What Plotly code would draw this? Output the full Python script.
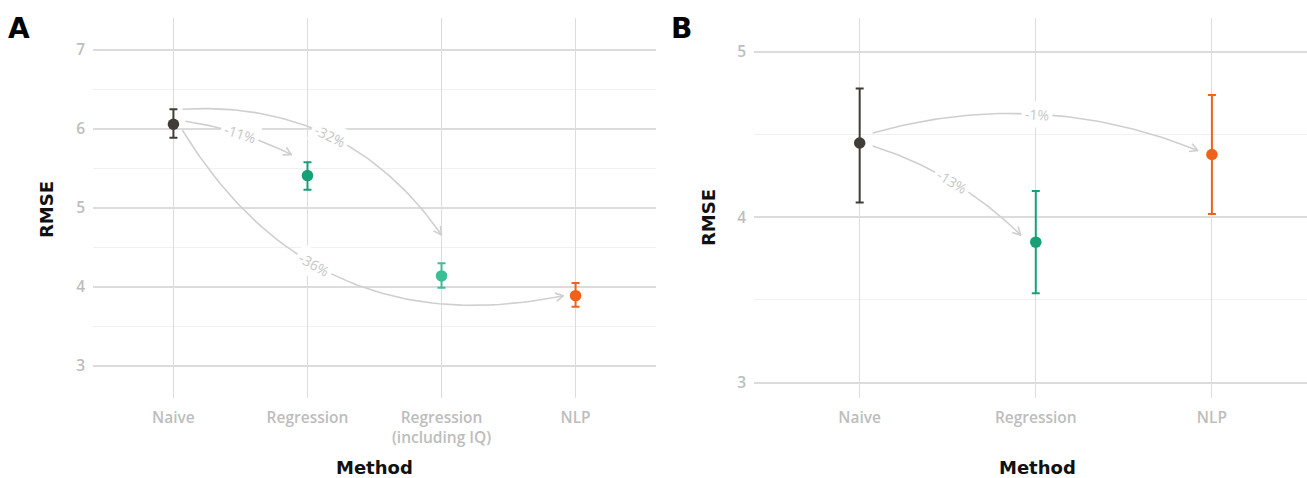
import math
import plotly.graph_objects as go

# ---------------- data ----------------
methods_a = ["Naive", "Regression", "Regression<br>(including IQ)", "NLP"]
rmse_a = [6.06, 5.41, 4.14, 3.89]
lower_a = [5.89, 5.23, 3.99, 3.75]
upper_a = [6.25, 5.58, 4.30, 4.05]

methods_b = ["Naive", "Regression", "NLP"]
rmse_b = [4.45, 3.85, 4.38]
lower_b = [4.09, 3.54, 4.02]
upper_b = [4.78, 4.16, 4.74]

# comparisons: (from index, to index, label)
compare_a = [(0, 1, "-11%"), (0, 2, "-32%"), (0, 3, "-36%")]
compare_b = [(0, 1, "-13%"), (0, 2, "-1%")]

y_ticks_a = [3, 4, 5, 6, 7]
y_ticks_b = [3, 4, 5]

# ---------------- style ----------------
W, H = 1307, 478
col_a = ["#403d39", "#17a077", "#3dbd96", "#f0621a"]
col_b = ["#403d39", "#17a077", "#f0621a"]

# arrow styling: start offset px, end offset px, curvature (+ bulges up/right), label position t
style_a = [((12, -3), (-16, -21), 0.08, 0.5),
           ((9, -15), (0, -41), 0.28, 0.5),
           ((9, 6), (-12, 0), -0.35, 0.42)]
style_b = [((13, 3), (-15, -7), 0.12, 0.5),
           ((13, -10), (-14, -4), 0.17, 0.5)]

panel_a = dict(x0=93, x1=656, xr=(-0.6, 3.6), y0=18, y1=398, yr=(2.595, 7.405))
panel_b = dict(x0=754, x1=1307, xr=(-0.6, 2.54), y0=18, y1=398, yr=(2.907, 5.206))

GRID = "#dcdcdc"
MINOR = "#f0f0f0"
TICKC = "#bdbdbd"
ARROW = "#cfcfcf"
FONT = "Open Sans"
TFONT = "DejaVu Sans"

fig = go.Figure()


def to_px(p, x, y):
    px = p["x0"] + (x - p["xr"][0]) / (p["xr"][1] - p["xr"][0]) * (p["x1"] - p["x0"])
    py = p["y1"] - (y - p["yr"][0]) / (p["yr"][1] - p["yr"][0]) * (p["y1"] - p["y0"])
    return px, py


def to_data(p, px, py):
    x = p["xr"][0] + (px - p["x0"]) / (p["x1"] - p["x0"]) * (p["xr"][1] - p["xr"][0])
    y = p["yr"][0] + (p["y1"] - py) / (p["y1"] - p["y0"]) * (p["yr"][1] - p["yr"][0])
    return x, y


def add_panel(methods, rmse, lo, hi, cols, xa, ya):
    for i, m in enumerate(methods):
        fig.add_trace(go.Scatter(
            x=[i], y=[rmse[i]], mode="markers",
            marker=dict(size=11.5, color=cols[i]),
            error_y=dict(type="data", symmetric=False,
                         array=[hi[i] - rmse[i]], arrayminus=[rmse[i] - lo[i]],
                         color=cols[i], thickness=2, width=4),
            xaxis=xa, yaxis=ya, showlegend=False, hoverinfo="skip"))


def add_arrows(p, rmse, comps, styles, xa, ya):
    for (i, j, lab), (so, eo, k, tl_) in zip(comps, styles):
        sx, sy = to_px(p, i, rmse[i])
        ex, ey = to_px(p, j, rmse[j])
        sx, sy = sx + so[0], sy + so[1]
        ex, ey = ex + eo[0], ey + eo[1]
        dx, dy = ex - sx, ey - sy
        L = math.hypot(dx, dy)
        perp = (dy / L, -dx / L)
        mx, my = (sx + ex) / 2, (sy + ey) / 2
        cx, cy = mx + k * L * perp[0], my + k * L * perp[1]

        def bez(u):
            return ((1 - u) ** 2 * sx + 2 * (1 - u) * u * cx + u ** 2 * ex,
                    (1 - u) ** 2 * sy + 2 * (1 - u) * u * cy + u ** 2 * ey)

        xs, ys = [], []
        n = 60
        for t in range(n + 1):
            X, Y = to_data(p, *bez(t / n))
            xs.append(X); ys.append(Y)
        fig.add_trace(go.Scatter(x=xs, y=ys, mode="lines",
                                 line=dict(color=ARROW, width=1.6),
                                 xaxis=xa, yaxis=ya, showlegend=False, hoverinfo="skip"))
        # open arrow head
        tx, ty = ex - cx, ey - cy
        tn = math.hypot(tx, ty)
        tx, ty = tx / tn, ty / tn
        hx, hy = [], []
        for sgn in (1, -1):
            a = math.radians(28) * sgn
            rx = -(tx * math.cos(a) - ty * math.sin(a))
            ry = -(tx * math.sin(a) + ty * math.cos(a))
            X1, Y1 = to_data(p, ex + 9 * rx, ey + 9 * ry)
            hx.append(X1); hy.append(Y1)
        Xe, Ye = to_data(p, ex, ey)
        fig.add_trace(go.Scatter(x=[hx[0], Xe, hx[1]], y=[hy[0], Ye, hy[1]], mode="lines",
                                 line=dict(color=ARROW, width=1.6),
                                 xaxis=xa, yaxis=ya, showlegend=False, hoverinfo="skip"))
        # label on the curve
        lx, ly = bez(tl_)
        gx = 2 * (1 - tl_) * (cx - sx) + 2 * tl_ * (ex - cx)
        gy = 2 * (1 - tl_) * (cy - sy) + 2 * tl_ * (ey - cy)
        LX, LY = to_data(p, lx, ly)
        ang = math.degrees(math.atan2(gy, gx))
        fig.add_annotation(x=LX, y=LY, xref=xa, yref=ya,
                           text=lab, showarrow=False, textangle=ang,
                           font=dict(family=FONT, size=14, color="#c6c6c6"),
                           bgcolor="white", borderpad=3)


add_panel(methods_a, rmse_a, lower_a, upper_a, col_a, "x", "y")
add_panel(methods_b, rmse_b, lower_b, upper_b, col_b, "x2", "y2")
add_arrows(panel_a, rmse_a, compare_a, style_a, "x", "y")
add_arrows(panel_b, rmse_b, compare_b, style_b, "x2", "y2")


def dom_x(p):
    return [p["x0"] / W, p["x1"] / W]


def dom_y(p):
    return [(H - p["y1"]) / H, (H - p["y0"]) / H]


xcommon = dict(showgrid=True, gridcolor=GRID, gridwidth=1.3, zeroline=False,
               showline=False, ticks="", ticklabelstandoff=8,
               tickfont=dict(family=FONT, size=15.5, color=TICKC, weight=600))
ycommon = dict(showgrid=True, gridcolor=GRID, gridwidth=1.6, zeroline=False,
               showline=False, ticks="", ticklabelstandoff=7,
               tickfont=dict(family=FONT, size=15.5, color=TICKC, weight=600),
               minor=dict(dtick=0.5, showgrid=True, gridcolor=MINOR, gridwidth=1.2))

fig.update_layout(
    width=W, height=H, autosize=False,
    margin=dict(l=0, r=0, t=0, b=0),
    paper_bgcolor="white", plot_bgcolor="white",
    xaxis=dict(domain=dom_x(panel_a), range=list(panel_a["xr"]),
               tickvals=list(range(len(methods_a))), ticktext=methods_a, **xcommon),
    yaxis=dict(domain=dom_y(panel_a), range=list(panel_a["yr"]), tickvals=y_ticks_a, **ycommon),
    xaxis2=dict(domain=dom_x(panel_b), range=list(panel_b["xr"]), anchor="y2",
                tickvals=list(range(len(methods_b))), ticktext=methods_b, **xcommon),
    yaxis2=dict(domain=dom_y(panel_b), range=list(panel_b["yr"]), anchor="x2",
                tickvals=y_ticks_b, **ycommon),
)

title_font = dict(family=TFONT, size=18, color="#111111", weight=700)
for txt, x, y, ang in [("RMSE", 46, 210, -90), ("RMSE", 708, 218, -90),
                       ("Method", 374, 467, 0), ("Method", 1037, 467, 0)]:
    fig.add_annotation(x=x / W, y=1 - y / H, xref="paper", yref="paper", text=txt,
                       showarrow=False, textangle=ang, font=title_font,
                       xanchor="center", yanchor="middle")

for txt, x in [("A", 19), ("B", 681)]:
    fig.add_annotation(x=x / W, y=1 - 28 / H, xref="paper", yref="paper", text=txt,
                       showarrow=False, font=dict(family=TFONT, size=28, color="#000", weight=700),
                       xanchor="center", yanchor="middle")

fig.write_html("out.html", config={"displayModeBar": False},
               post_script="document.body.style.margin='0px';")
